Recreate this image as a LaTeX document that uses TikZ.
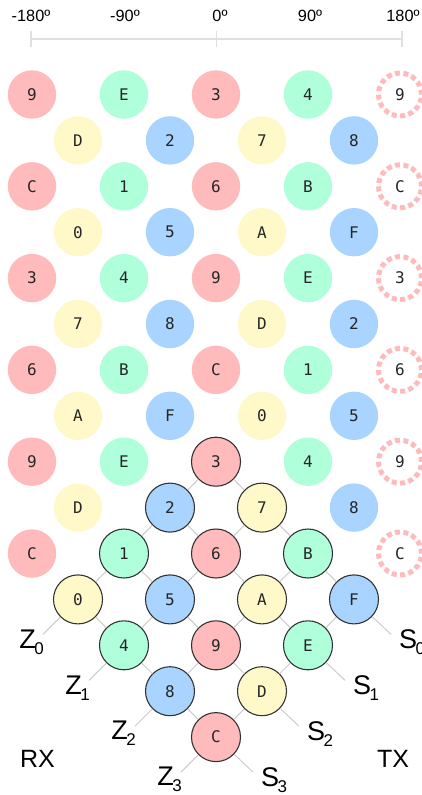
\documentclass[tikz,border=0pt]{standalone}
\usepackage{fontspec}
\setmainfont{Liberation Sans}
\newfontfamily\symfont{DejaVu Sans Mono}
\usepackage{xcolor}
\usepackage{tikz}
\usetikzlibrary{calc}

\definecolor{pk}{HTML}{FFBBBB}
\definecolor{mt}{HTML}{AFFFDB}
\definecolor{yl}{HTML}{FFF9C9}
\definecolor{bl}{HTML}{A8D4FF}
\definecolor{axisgray}{HTML}{E0E0E0}
\definecolor{wiregray}{HTML}{CCCCCC}

\newcommand\wirelabel[2]{#1\kern-1.5pt\raisebox{-6pt}{\fontsize{17}{17}\selectfont #2}}

\tikzset{
  sym/.style={circle, inner sep=0pt, minimum size=48.4pt, fill=#1,
    font=\symfont\fontsize{16}{16}\selectfont, text=black!85},
  live/.style={sym=#1, draw=black!80, line width=1.1pt, minimum size=49pt},
  ghost/.style={circle, inner sep=0pt, minimum size=43pt, draw=pk, line width=5pt,
    dash pattern=on 5pt off 3.44pt, font=\symfont\fontsize{16}{16}\selectfont, text=black!85},
  wire/.style={draw=wiregray, line width=1pt},
  axis/.style={draw=axisgray, line width=1.5pt},
  lbl/.style={inner sep=0pt, font=\fontsize{27}{27}\selectfont},
}

\begin{document}
\begin{tikzpicture}[x=1pt, y=-1pt]
    \useasboundingbox (0,0) rectangle (422,795);

    % Phase scale
    \draw[axis] (31,39) -- (402,39);
    \foreach \x in {31,216.5,402}
        \draw[axis] (\x,31) -- (\x,47);
    \foreach \x/\t [count=\i] in {31/-180º, 125/-90º, 220/0º, 310/90º, 403/180º}
        \node[anchor=base, inner sep=0pt, font=\fontsize{16.3}{16}\selectfont] (deg\i) at (\x,21.7) {\t};

    % Repeated symbol lattice
    \foreach \r/\c/\t/\f in {
        0/0/9/pk, 0/2/E/mt, 0/4/3/pk, 0/6/4/mt,
        1/1/D/yl, 1/3/2/bl, 1/5/7/yl, 1/7/8/bl,
        2/0/C/pk, 2/2/1/mt, 2/4/6/pk, 2/6/B/mt,
        3/1/0/yl, 3/3/5/bl, 3/5/A/yl, 3/7/F/bl,
        4/0/3/pk, 4/2/4/mt, 4/4/9/pk, 4/6/E/mt,
        5/1/7/yl, 5/3/8/bl, 5/5/D/yl, 5/7/2/bl,
        6/0/6/pk, 6/2/B/mt, 6/4/C/pk, 6/6/1/mt,
        7/1/A/yl, 7/3/F/bl, 7/5/0/yl, 7/7/5/bl,
        8/0/9/pk, 8/2/E/mt, 8/6/4/mt,
        9/1/D/yl, 9/7/8/bl,
        10/0/C/pk}
        \node[sym=\f] (g\r-\c) at ({32+46*\c},{94.5+45.9*\r}) {\t};

    % Wrapped column at +180
    \foreach \r/\t in {0/9, 2/C, 4/3, 6/6, 8/9, 10/C}
        \node[ghost] (h\r) at (400,{94.5+45.9*\r}) {\t};

    % Constellation (outlined)
    \foreach \v/\c/\r/\f in {
        3/4/8/pk, 2/3/9/bl, 7/5/9/yl,
        1/2/10/mt, 6/4/10/pk, B/6/10/mt,
        0/1/11/yl, 5/3/11/bl, A/5/11/yl, F/7/11/bl,
        4/2/12/mt, 9/4/12/pk, E/6/12/mt,
        8/3/13/bl, D/5/13/yl,
        C/4/14/pk}
        \node[live=\f] (k\v) at ({32+46*\c},{94.5+45.9*\r}) {\v};

    \foreach \a/\b in {3/2, 3/7, 2/1, 2/6, 7/6, 7/B, 1/0, 1/5, 6/5, 6/A, B/A, B/F,
                       0/4, 5/4, 5/9, A/9, A/E, F/E, 4/8, 9/8, 9/D, E/D, 8/C, D/C}
        \draw[wire] (k\a) -- (k\b);

    % Z and S leads
    \foreach \v/\n in {0/0, 4/1, 8/2, C/3} {
        \coordinate (z\n) at ($(k\v)+(-35,35)$);
        \draw[wire] (k\v) -- (z\n);
        \node[lbl, anchor=north east] (zl\n) at ($(z\n)+(1,-5)$) {\wirelabel{Z}{\n}};
    }
    \foreach \v/\n in {F/0, E/1, D/2, C/3} {
        \coordinate (s\n) at ($(k\v)+(37,35)$);
        \draw[wire] (k\v) -- (s\n);
        \node[lbl, anchor=north west] (sl\n) at ($(s\n)+(8,-5)$) {\wirelabel{S}{\n}};
    }

    \node[inner sep=0pt, font=\fontsize{25}{25}\selectfont] (rx) at (37.5,759) {RX};
    \node[inner sep=0pt, font=\fontsize{25}{25}\selectfont] (tx) at (393,759) {TX};
\end{tikzpicture}
\end{document}
